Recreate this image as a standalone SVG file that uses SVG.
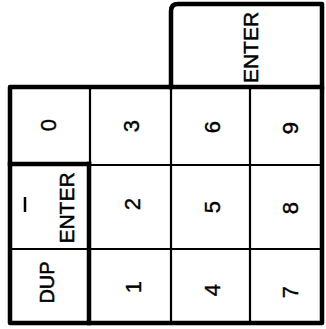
<svg xmlns="http://www.w3.org/2000/svg" width="326" height="329" viewBox="0 0 326 329">
<style>
.thick{fill:none;stroke:#000;stroke-width:4.5;stroke-linecap:square;stroke-linejoin:round}
.thin{fill:none;stroke:#000;stroke-width:2.2}
.lbl{font-family:"Liberation Sans",Arial,sans-serif;font-size:21px;fill:#000;stroke:#000;stroke-width:0.5;text-anchor:middle}
.dig{font-family:"Liberation Sans",Arial,sans-serif;font-size:22px;fill:#000;stroke:#000;stroke-width:0.4;text-anchor:middle}
</style>
<rect width="326" height="329" fill="#fff"/>
<g id="grid">
<line class="thin" x1="90" y1="87" x2="90" y2="164"/>
<line class="thin" x1="171" y1="87" x2="171" y2="323"/>
<line class="thin" x1="250" y1="87" x2="250" y2="323"/>
<line class="thin" x1="90" y1="165" x2="322" y2="165"/>
<line class="thin" x1="10" y1="249" x2="322" y2="249"/>
<line class="thick" x1="10" y1="164" x2="89" y2="164"/>
<line class="thick" x1="89" y1="164" x2="89" y2="323"/>
<rect class="thick" x="10" y="87" width="312" height="236"/>
<path class="thick" d="M171,87 V11 Q171,4 178,4 H322 V87"/>
</g>
<g id="key-enter-top"><text class="lbl" transform="translate(250,47.5) rotate(-90)" y="7.5">ENTER</text></g>
<g id="key-0"><text class="dig" transform="translate(48,125) rotate(-90)" y="8">0</text></g>
<g id="key-3"><text class="dig" transform="translate(131,126) rotate(-90)" y="8">3</text></g>
<g id="key-6"><text class="dig" transform="translate(212,127) rotate(-90)" y="8">6</text></g>
<g id="key-9"><text class="dig" transform="translate(290,128) rotate(-90)" y="8">9</text></g>
<g id="key-enter"><line x1="25" y1="197" x2="25" y2="212" stroke="#000" stroke-width="2.5"/><text class="lbl" transform="translate(66,208) rotate(-90)" y="7.5">ENTER</text></g>
<g id="key-2"><text class="dig" transform="translate(132,204) rotate(-90)" y="8">2</text></g>
<g id="key-5"><text class="dig" transform="translate(212,207) rotate(-90)" y="8">5</text></g>
<g id="key-8"><text class="dig" transform="translate(290,208) rotate(-90)" y="8">8</text></g>
<g id="key-dup"><text class="lbl" transform="translate(46,282.5) rotate(-90)" y="7.5" style="font-size:20px">DUP</text></g>
<g id="key-1"><text class="dig" transform="translate(133,287) rotate(-90)" y="8">1</text></g>
<g id="key-4"><text class="dig" transform="translate(212,290) rotate(-90)" y="8">4</text></g>
<g id="key-7"><text class="dig" transform="translate(290,292) rotate(-90)" y="8">7</text></g>
</svg>
